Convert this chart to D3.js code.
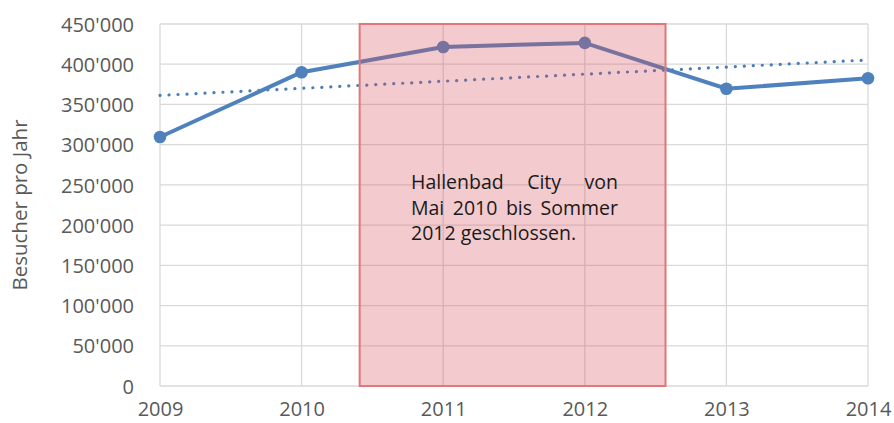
<!DOCTYPE html>
<html>
<head>
<meta charset="utf-8">
<script src="https://cdn.jsdelivr.net/npm/d3@7"></script>
<style>
  body { margin: 0; background: #fff; }
  svg { display: block; font-family: "Open Sans", "Noto Sans", sans-serif; }
</style>
</head>
<body>
<svg width="894" height="423"></svg>
<script>
const years = [2009, 2010, 2011, 2012, 2013, 2014];
const visitors = [309500, 390000, 421500, 426500, 369500, 382500];
const yTicks = [0, 50000, 100000, 150000, 200000, 250000, 300000, 350000, 400000, 450000];
const closedFrom = 2010.41;
const closedTo = 2012.57;
const noteLines = ["Hallenbad City von", "Mai 2010 bis Sommer", "2012 geschlossen."];

const svg = d3.select("svg");
const x = d3.scaleLinear().domain([2009, 2014]).range([160, 868]);
const y = d3.scaleLinear().domain([0, 450000]).range([386, 24]);

const fmt = function (d) {
  return d3.format(",")(d).replace(/,/g, "'");
};

// grid
svg.append("g")
  .selectAll("line.h")
  .data(yTicks)
  .join("line")
  .attr("x1", x(2009)).attr("x2", x(2014))
  .attr("y1", d => y(d)).attr("y2", d => y(d))
  .attr("stroke", "#d9d9d9").attr("stroke-width", 1.3);

svg.append("g")
  .selectAll("line.v")
  .data(years)
  .join("line")
  .attr("x1", d => x(d)).attr("x2", d => x(d))
  .attr("y1", y(0)).attr("y2", y(450000))
  .attr("stroke", "#d9d9d9").attr("stroke-width", 1.3);

// axes
const yAxis = svg.append("g")
  .attr("transform", "translate(" + (x(2009) - 23) + ",0)")
  .call(d3.axisLeft(y).tickValues(yTicks).tickFormat(fmt).tickSize(0));
yAxis.select(".domain").remove();
yAxis.attr("font-family", null).attr("font-size", null);
yAxis.selectAll("text")
  .attr("dy", "0.36em")
  .attr("fill", "#595959")
  .attr("font-size", "20px");

const xAxis = svg.append("g")
  .attr("transform", "translate(0," + (y(0) + 13) + ")")
  .call(d3.axisBottom(x).tickValues(years).tickFormat(d3.format("d")).tickSize(0));
xAxis.select(".domain").remove();
xAxis.attr("font-family", null).attr("font-size", null);
xAxis.selectAll("text")
  .attr("fill", "#595959")
  .attr("font-size", "20px");

svg.append("text")
  .attr("transform", "translate(27," + 205 + ") rotate(-90)")
  .attr("text-anchor", "middle")
  .attr("fill", "#595959")
  .attr("font-size", "20.5px")
  .text("Besucher pro Jahr");

// trend line (least squares)
const mx = d3.mean(years), my = d3.mean(visitors);
const slope = d3.sum(years, (v, i) => (v - mx) * (visitors[i] - my)) /
  d3.sum(years, v => (v - mx) * (v - mx));
const trend = v => my + slope * (v - mx);

svg.append("line")
  .attr("x1", x(2009)).attr("y1", y(trend(2009)))
  .attr("x2", x(2014)).attr("y2", y(trend(2014)))
  .attr("stroke", "#4a7ebb")
  .attr("stroke-width", 3.2)
  .attr("stroke-linecap", "round")
  .attr("stroke-dasharray", "0.1 8.9");

// data line
const line = d3.line().x((d, i) => x(years[i])).y(d => y(d));
svg.append("path")
  .datum(visitors)
  .attr("d", line)
  .attr("fill", "none")
  .attr("stroke", "#4f81bd")
  .attr("stroke-width", 4);

svg.append("g")
  .selectAll("circle")
  .data(visitors)
  .join("circle")
  .attr("cx", (d, i) => x(years[i]))
  .attr("cy", d => y(d))
  .attr("r", 6.3)
  .attr("fill", "#4f81bd");

// closed period
svg.append("rect")
  .attr("x", x(closedFrom))
  .attr("y", y(450000))
  .attr("width", x(closedTo) - x(closedFrom))
  .attr("height", y(0) - y(450000))
  .attr("fill", "rgb(215,80,88)")
  .attr("fill-opacity", 0.3)
  .attr("stroke", "rgb(222,120,122)")
  .attr("stroke-width", 2);

// note, first two lines justified by widening the word gaps
const noteWidth = 207;
const note = svg.append("g").attr("fill", "#1a1a1a").attr("font-size", "19.5px");
note.selectAll("text")
  .data(noteLines)
  .join("text")
  .attr("x", 411)
  .attr("y", (d, i) => 189 + i * 25.5)
  .text(d => d)
  .each(function (d, i) {
    if (i > 1) return;
    const gaps = d.split(" ").length - 1;
    const extra = noteWidth - this.getComputedTextLength();
    d3.select(this).attr("word-spacing", extra / gaps);
  });
</script>
</body>
</html>
